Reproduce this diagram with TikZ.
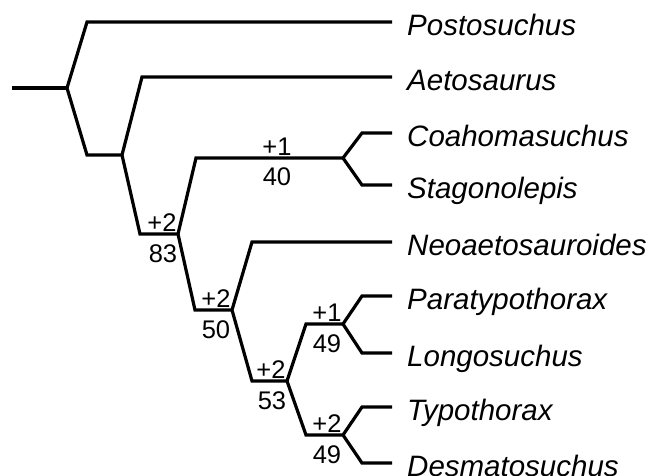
\documentclass[tikz,border=0pt]{standalone}
\usepackage{fontspec}
\setmainfont{Liberation Sans}
\begin{document}
\begin{tikzpicture}[x=1pt,y=-1pt,
  branch/.style={line width=3.2pt, line join=miter, line cap=butt},
  taxon/.style={anchor=west, inner xsep=15pt, inner ysep=0pt, text height=30pt, text depth=4pt, font=\fontsize{29.5}{30}\selectfont\itshape},
  numlab/.style={anchor=base, inner sep=0pt, font=\fontsize{25.5}{26}\selectfont}]
\useasboundingbox (0,0) rectangle (656,475);
% internal nodes and bends
\coordinate (root) at (12,88);
\coordinate (n1) at (67,88);
\coordinate (bp) at (87,22);
\coordinate (bn2) at (87,155);
\coordinate (n2) at (122,155);
\coordinate (ba) at (142,77);
\coordinate (bn3) at (140,234);
\coordinate (n3) at (178,234);
\coordinate (bn6) at (196,158);
\coordinate (n6) at (343,158);
\coordinate (bcoa) at (362,133);
\coordinate (bsta) at (362,185);
\coordinate (bn4) at (195,310);
\coordinate (n4) at (232,310);
\coordinate (bneo) at (252,242);
\coordinate (bn5) at (252,381);
\coordinate (n5) at (287,381);
\coordinate (bn7) at (306,324);
\coordinate (n7) at (343,324);
\coordinate (bpar) at (362,296);
\coordinate (blon) at (362,353);
\coordinate (bn8) at (306,435);
\coordinate (n8) at (343,435);
\coordinate (btyp) at (362,407);
\coordinate (bdes) at (362,463);
% taxa
\node[taxon] (post) at (392,22) {Postosuchus};
\node[taxon] (aeto) at (392,77) {Aetosaurus};
\node[taxon] (coa) at (392,133) {Coahomasuchus};
\node[taxon] (sta) at (392,185) {Stagonolepis};
\node[taxon] (neo) at (392,242) {Neoaetosauroides};
\node[taxon] (par) at (392,296) {Paratypothorax};
\node[taxon] (lon) at (392,353) {Longosuchus};
\node[taxon] (typ) at (392,407) {Typothorax};
\node[taxon] (des) at (392,463) {Desmatosuchus};
% branches
\draw[branch] (root) -- (n1);
\draw[branch] (post) -- (bp) -- (n1) -- (bn2) -- (n2);
\draw[branch] (aeto) -- (ba) -- (n2) -- (bn3) -- (n3);
\draw[branch] (n6) -- (bn6) -- (n3) -- (bn4) -- (n4);
\draw[branch] (coa) -- (bcoa) -- (n6) -- (bsta) -- (sta);
\draw[branch] (neo) -- (bneo) -- (n4) -- (bn5) -- (n5);
\draw[branch] (n7) -- (bn7) -- (n5) -- (bn8) -- (n8);
\draw[branch] (par) -- (bpar) -- (n7) -- (blon) -- (lon);
\draw[branch] (typ) -- (btyp) -- (n8) -- (bdes) -- (des);
% labels
\node[numlab] (l6a) at (277,155.5) {+1};
\node[numlab] (l6b) at (277,185) {40};
\node[numlab] (l3a) at (162,231.5) {+2};
\node[numlab] (l3b) at (163,262) {83};
\node[numlab] (l4a) at (216,307.5) {+2};
\node[numlab] (l4b) at (216,338) {50};
\node[numlab] (l5a) at (271,378.5) {+2};
\node[numlab] (l5b) at (272,409) {53};
\node[numlab] (l7a) at (327,321.5) {+1};
\node[numlab] (l7b) at (327,352) {49};
\node[numlab] (l8a) at (327,432.5) {+2};
\node[numlab] (l8b) at (327,463) {49};
\end{tikzpicture}
\end{document}
